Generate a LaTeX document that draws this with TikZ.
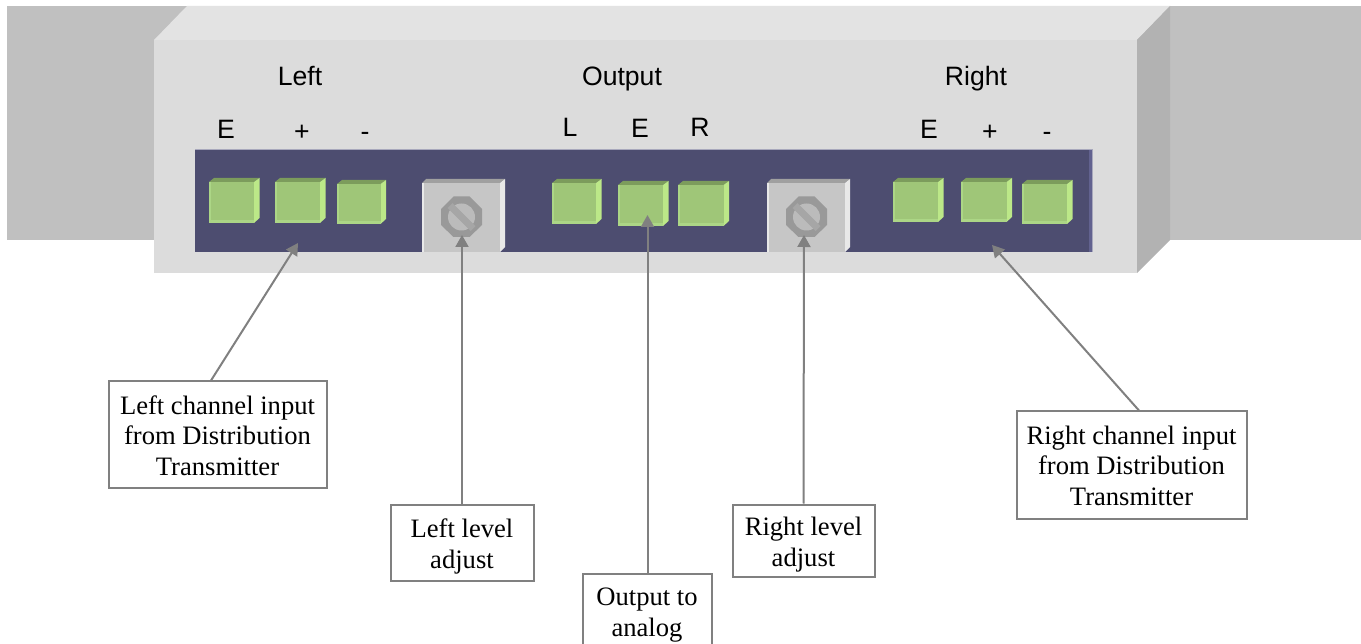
\documentclass[tikz,border=0pt]{standalone}
\usepackage{fontspec}
\setmainfont{Liberation Serif}
\newfontfamily\arialfont{Liberation Sans}
\usetikzlibrary{arrows.meta}
\definecolor{wallc}{HTML}{C0C0C0}
\definecolor{frontc}{HTML}{DCDCDC}
\definecolor{topc}{HTML}{E3E3E3}
\definecolor{sidec}{HTML}{B2B2B2}
\definecolor{panelc}{HTML}{4D4D70}
\definecolor{panelr}{HTML}{62628F}
\definecolor{panelb}{HTML}{A8A8BC}
\definecolor{greenf}{HTML}{9FC678}
\definecolor{greent}{HTML}{7C9C5C}
\definecolor{greenr}{HTML}{BCE888}
\definecolor{greene}{HTML}{ACD686}
\definecolor{platef}{HTML}{C6C6C6}
\definecolor{platet}{HTML}{A0A0A0}
\definecolor{plater}{HTML}{E8E8E8}
\definecolor{screwc}{HTML}{999999}
\definecolor{screwi}{HTML}{BBBBBB}
\definecolor{screws}{HTML}{A6A6A6}
\definecolor{linec}{HTML}{808080}
\tikzset{
  callout/.style={draw=linec,line width=2pt,fill=white,align=center,inner sep=0pt,
    font=\fontsize{26.6}{30.7}\selectfont},
  caption/.style={font=\arialfont\fontsize{26.6}{31}\selectfont,anchor=base,text=black,inner sep=0pt},
  leader/.style={draw=linec,line width=2pt,-{Triangle[length=12pt,width=13pt,color=linec]}},
}
% #1 left, #2 top, #3 right, #4 bottom of the front face
\newcommand{\terminal}[4]{%
  \fill[greent] (#1,#2) -- (#1+5,#2-4) -- (#3+5.5,#2-4) -- (#3,#2) -- cycle;
  \fill[greenr] (#3,#2) -- (#3+5.5,#2-4) -- (#3+5.5,#4-5) -- (#3,#4) -- cycle;
  \fill[greene] (#1,#2) rectangle (#3,#4);
  \fill[greenf] (#1+1.5,#2) rectangle (#3,#4-2.5);
}
% #1 left, #2 top, #3 right, #4 bottom of the front face, #5,#6 screw centre
\newcommand{\plate}[6]{%
  \fill[platet] (#1,#2) -- (#1+4,#2-4) -- (#3+5,#2-4) -- (#3,#2) -- cycle;
  \fill[plater] (#3,#2) -- (#3+5,#2-4) -- (#3+5,#4-5) -- (#3,#4) -- cycle;
  \fill[platef] (#1,#2) rectangle (#3,#4);
  \fill[plater] (#1,#2) rectangle (#1+2,#4);
  \fill[screwc] (#5+20.5,#6-8) -- (#5+8,#6-20.5) -- (#5-8,#6-20.5) -- (#5-20.5,#6-8)
     -- (#5-20.5,#6+8) -- (#5-8,#6+20) -- (#5+8,#6+20) -- (#5+20.5,#6+8) -- cycle;
  \fill[screwi] (#5,#6) circle (13.5);
  \draw[screws,line width=7pt] (#5-11.5,#6-11.5) -- (#5+11.5,#6+11.5);
}
\newcommand{\lowerby}[1]{\rule{0pt}{#1pt}}
\begin{document}
\begin{tikzpicture}[x=1pt,y=-1pt]
\useasboundingbox (0,0) rectangle (1361,644);
\fill[wallc] (7,6) rectangle (1361,240);
\fill[topc] (154,40) -- (187,6) -- (1170,6) -- (1137,40) -- cycle;
\fill[sidec] (1137,40) -- (1170,6) -- (1170,240) -- (1137,273) -- cycle;
\fill[frontc] (154,40) rectangle (1137,273);
\fill[panelb] (194.5,149.5) rectangle (1092.5,252.5);
\fill[panelc] (195,150.5) rectangle (1089,252);
\fill[panelr] (1089,150.5) rectangle (1092,252);
\terminal{209}{182}{254}{223}
\terminal{275}{182}{320}{223}
\terminal{337}{184}{380.5}{224}
\terminal{552}{183}{596}{224}
\terminal{618}{185}{663}{226}
\terminal{678}{185}{723.5}{226}
\terminal{893}{182}{938}{222}
\terminal{961}{182}{1006.5}{222}
\terminal{1022}{184}{1067}{224}
\plate{422}{183}{500}{252}{461.5}{217}
\plate{767}{183}{845}{252}{806.5}{217}
\node[caption] (tl) at (300,86) {Left};
\node[caption] (to) at (622,86) {Output};
\node[caption] (tr) at (976,86) {Right};
\node[caption] (a1) at (226,139) {E};
\node[caption] (a2) at (302,141) {+};
\node[caption] (a3) at (365,141) {-};
\node[caption] (b1) at (570,137) {L};
\node[caption] (b2) at (640,138) {E};
\node[caption] (b3) at (700,137) {R};
\node[caption] (c1) at (929,139) {E};
\node[caption] (c2) at (990,141) {+};
\node[caption] (c3) at (1047,141) {-};
\coordinate (ptl) at (298,243);
\coordinate (ptll) at (462,235);
\coordinate (pto) at (647.5,215);
\coordinate (ptrl) at (804,235);
\coordinate (ptr) at (992,245);
\node[callout,minimum width=218pt,minimum height=106pt] (lc) at (217.5,434.5) {\lowerby{21}Left channel input\\from Distribution\\Transmitter};
\node[callout,minimum width=143pt,minimum height=76pt] (ll) at (462,542.5) {\lowerby{26}Left level\\adjust};
\node[callout,minimum width=129pt,minimum height=79pt,anchor=north] (oa) at (647,573) {\lowerby{21}Output to\\analog};
\node[callout,minimum width=142pt,minimum height=72pt] (rl) at (803.5,540.5) {\lowerby{26}Right level\\adjust};
\node[callout,minimum width=230pt,minimum height=107pt] (rc) at (1131.5,465) {\lowerby{20}Right channel input\\from Distribution\\Transmitter};
\draw[leader] ([xshift=-6.5pt]lc.north) -- (ptl);
\draw[leader] (ll.north) -- (ptll);
\draw[leader] ([xshift=0.5pt]oa.north) -- (pto);
\draw[leader] (rl.north) -- (ptrl);
\draw[leader] ([xshift=7.5pt]rc.north) -- (ptr);
\end{tikzpicture}
\end{document}
